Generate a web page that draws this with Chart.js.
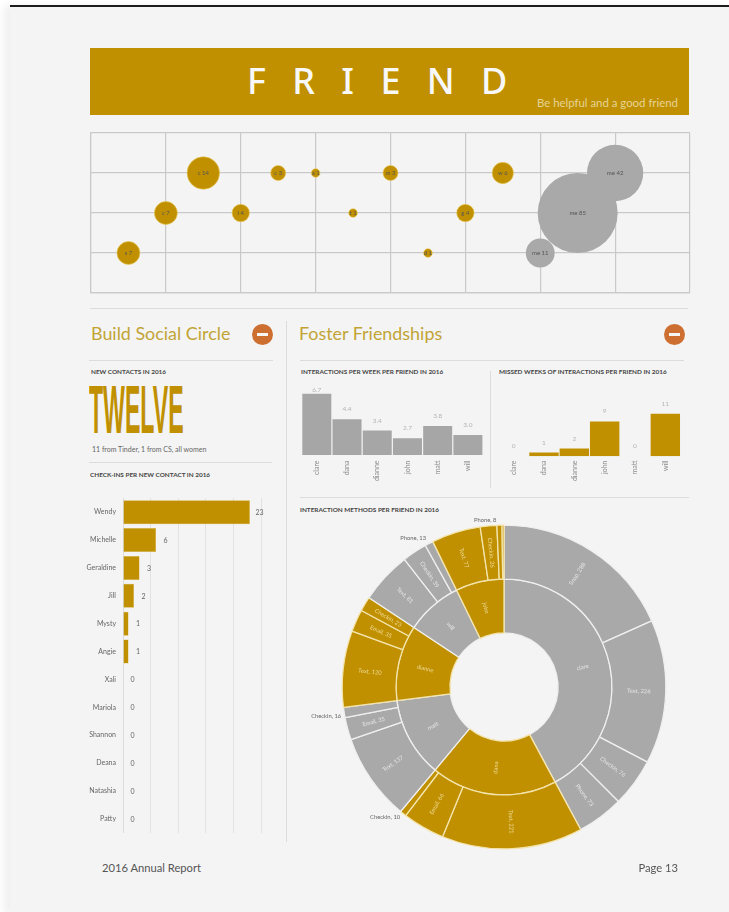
<!DOCTYPE html>
<html>
<head>
<meta charset="utf-8">
<title>Friend</title>
<script src="https://cdn.jsdelivr.net/npm/chart.js@4"></script>
<style>
  html, body { margin: 0; padding: 0; background: #fff; }
  body { width: 729px; height: 912px; position: relative; overflow: hidden; font-family: Lato, sans-serif; }
  #page { position: absolute; left: 10px; top: 5px; width: 719px; height: 907px; background: #f4f4f4; border-top: 2px solid #1c1c1c; box-shadow: -6px 0 8px #f0f0f0; }
  .abs { position: absolute; white-space: nowrap; }
  .rule { position: absolute; background: #dcdcdc; }
  .small-title { position: absolute; white-space: nowrap; font: bold 6.4px Lato, sans-serif; color: #444; line-height: 8px; }
  .heading { position: absolute; white-space: nowrap; font-size: 17.9px; line-height: 24px; color: #c2a436; }
  .minus { position: absolute; width: 21px; height: 21px; border-radius: 50%; background: #cc6f30; }
  .minus:after { content: ""; position: absolute; left: 5px; top: 9px; width: 11px; height: 3px; background: #f6f6f6; }
  canvas { position: absolute; }
</style>
</head>
<body>
<div id="page"></div>

<div class="abs" style="left:90px;top:48px;width:599px;height:67px;background:#c09000"></div>
<div class="abs" style="left:247px;top:56px;font:500 36px/50px 'Noto Sans',sans-serif;letter-spacing:26.3px;color:#f8f8f8">FRIEND</div>
<div class="abs" style="right:51px;top:96px;font-size:11.4px;line-height:14px;color:#e6d394">Be helpful and a good friend</div>

<canvas id="bubbleChart" style="left:89px;top:131px"></canvas>

<div class="rule" style="left:90px;top:308px;width:598px;height:1px"></div>
<div class="heading" style="left:91px;top:321px">Build Social Circle</div>
<div class="minus" style="left:252px;top:324px"></div>
<div class="heading" style="left:299px;top:321px">Foster Friendships</div>
<div class="minus" style="left:664px;top:324px"></div>
<div class="rule" style="left:89px;top:360px;width:184px;height:1px"></div>
<div class="rule" style="left:300px;top:360px;width:384px;height:1px"></div>
<div class="rule" style="left:286px;top:321px;width:1px;height:521px"></div>
<div class="rule" style="left:490px;top:371px;width:1px;height:117px"></div>
<div class="rule" style="left:300px;top:497px;width:389px;height:1px"></div>
<div class="rule" style="left:89px;top:462px;width:183px;height:1px"></div>

<div class="small-title" style="left:91px;top:368px">NEW CONTACTS IN 2016</div>
<div class="abs" id="twelve" style="left:89px;top:375px;font:bold 69px/70px 'Liberation Sans',sans-serif;color:#c09000;transform:scaleX(0.335);transform-origin:0 0">TWELVE</div>
<div class="abs" style="left:92px;top:445px;font-size:7px;line-height:9px;color:#666">11 from Tinder, 1 from CS, all women</div>
<div class="small-title" style="left:90px;top:471px">CHECK-INS PER NEW CONTACT IN 2016</div>
<div class="small-title" style="left:301px;top:368px">INTERACTIONS PER WEEK PER FRIEND IN 2016</div>
<div class="small-title" style="left:499px;top:368px">MISSED WEEKS OF INTERACTIONS PER FRIEND IN 2016</div>
<div class="small-title" style="left:300px;top:506px">INTERACTION METHODS PER FRIEND IN 2016</div>

<canvas id="checkinChart" style="left:70px;top:487px"></canvas>
<canvas id="interactionChart" style="left:298px;top:380px"></canvas>
<canvas id="missedChart" style="left:495px;top:380px"></canvas>
<canvas id="sunburstChart" style="left:304px;top:507px"></canvas>

<div class="abs" style="left:102px;top:860px;font-size:11.2px;line-height:16px;color:#555">2016 Annual Report</div>
<div class="abs" style="right:51px;top:860px;font-size:11.2px;line-height:16px;color:#555">Page 13</div>

<script>
const GOLD = '#c09000'
const GRAY = '#a9a9a9'

// bubbles along the top strip
const bubbleNames = ['s', 'c', 'c', 'l', 'c', 'a', 't', 'm', 'd', 'g', 'w', 'me', 'me', 'me']
const bubbleX = [0.5, 1, 1.5, 2, 2.5, 3, 3.5, 4, 4.5, 5, 5.5, 6, 6.5, 7]
const bubbleY = [1, 2, 3, 2, 3, 3, 2, 3, 1, 2, 3, 1, 2, 3]
const bubbleCounts = [7, 7, 14, 4, 3, 1, 1, 3, 1, 4, 6, 11, 85, 42]

// check-ins per new contact
const contactNames = ['Wendy', 'Michelle', 'Geraldine', 'Jill', 'Mysty', 'Angie', 'Xali', 'Mariola', 'Shannon', 'Deana', 'Natashia', 'Patty']
const contactCheckins = [23, 6, 3, 2, 1, 1, 0, 0, 0, 0, 0, 0]

// the two small bar charts
const friends = ['clare', 'dana', 'dianne', 'john', 'matt', 'will']
const interactionsPerWeek = [6.7, 4.4, 3.4, 2.7, 3.8, 3.0]
const missedWeeks = [0, 1, 2, 9, 0, 11]

// sunburst, outer ring is methods, inner ring is the friend total
const methodNames = ['Snap', 'Text', 'Checkin', 'Phone', 'Text', 'Email', 'Checkin', 'Text', 'Email', 'Checkin', 'Text', 'Email', 'Checkin', 'Text', 'Checkin', 'Phone', 'Text', 'Checkin', 'Phone', 'Email']
const methodValues = [288, 226, 76, 73, 221, 66, 10, 137, 35, 16, 120, 35, 23, 81, 39, 13, 77, 26, 8, 3]
const methodIsGold = [0, 0, 0, 0, 1, 1, 1, 0, 0, 0, 1, 1, 1, 0, 0, 0, 1, 1, 1, 1]
const ringNames = ['clare', 'dana', 'matt', 'dianne', 'will', 'john']
const ringValues = [663, 297, 188, 178, 133, 114]
const ringIsGold = [0, 1, 0, 1, 0, 1]

function sizeCanvas(id, w, h) {
  const el = document.getElementById(id)
  el.width = w
  el.height = h
  el.style.width = w + 'px'
  el.style.height = h + 'px'
  return el
}

Chart.defaults.animation = false
Chart.defaults.responsive = false
Chart.defaults.font.family = 'Lato, sans-serif'
Chart.defaults.plugins.legend.display = false
Chart.defaults.plugins.tooltip.enabled = false

// writes each bubble's label at its centre
const bubbleLabels = {
  id: 'bubbleLabels',
  afterDatasetsDraw(chart) {
    const ctx = chart.ctx
    ctx.save()
    ctx.font = '6px Lato, sans-serif'
    ctx.fillStyle = '#555'
    ctx.textAlign = 'center'
    ctx.textBaseline = 'middle'
    chart.getDatasetMeta(0).data.forEach((pt, i) => {
      ctx.fillText(bubbleNames[i] + ' ' + bubbleCounts[i], pt.x, pt.y)
    })
    ctx.restore()
  }
}

new Chart(sizeCanvas('bubbleChart', 603, 164), {
  type: 'bubble',
  data: {
    datasets: [{
      data: bubbleX.map((x, i) => ({ x: x, y: bubbleY[i], r: 4.34 * Math.sqrt(bubbleCounts[i]) })),
      backgroundColor: bubbleNames.map(n => n === 'me' ? GRAY : GOLD),
      borderColor: bubbleNames.map(n => n === 'me' ? GRAY : '#e9c95a'),
      borderWidth: bubbleNames.map(n => n === 'me' ? 0 : 0.6),
      clip: false
    }]
  },
  options: {
    layout: { padding: 2, autoPadding: false },
    scales: {
      x: { min: 0, max: 8, ticks: { display: false, stepSize: 1 }, grid: { color: '#c9c9c9', lineWidth: 1.2, drawTicks: false }, border: { color: '#c9c9c9', width: 1.2 } },
      y: { min: 0, max: 4, ticks: { display: false, stepSize: 1 }, grid: { color: '#c9c9c9', lineWidth: 1.2, drawTicks: false }, border: { color: '#c9c9c9', width: 1.2 } }
    }
  },
  plugins: [bubbleLabels]
})

const checkinValueLabels = {
  id: 'checkinValueLabels',
  afterDatasetsDraw(chart) {
    const ctx = chart.ctx
    ctx.save()
    ctx.font = '7px Lato, sans-serif'
    ctx.fillStyle = '#666'
    ctx.textAlign = 'center'
    ctx.textBaseline = 'middle'
    chart.getDatasetMeta(0).data.forEach((bar, i) => {
      ctx.fillText(contactCheckins[i], bar.x + 9.5, bar.y + 0.5)
    })
    ctx.restore()
  }
}

// the y axis keeps about 11px free at both ends of this canvas whatever the padding says
new Chart(sizeCanvas('checkinChart', 215, 357), {
  type: 'bar',
  data: {
    labels: contactNames,
    datasets: [{ data: contactCheckins, backgroundColor: GOLD, borderColor: '#d9b43c', borderWidth: 0.5, barPercentage: 0.86, categoryPercentage: 1 }]
  },
  options: {
    indexAxis: 'y',
    layout: { padding: { right: 24 }, autoPadding: false },
    scales: {
      x: { min: 0, max: 25, afterFit: s => { s.height = 0 }, ticks: { display: false, stepSize: 5 }, grid: { color: '#e2e2e2', drawTicks: false }, border: { display: false } },
      y: {
        afterFit: s => { s.width = 53 },
        ticks: { color: '#666', font: { size: 7 }, padding: 7 },
        grid: { display: false, drawTicks: false },
        border: { color: '#dcdcdc' }
      }
    }
  },
  plugins: [checkinValueLabels]
})

// labels over the columns, held inside the plot at the top
const columnValueLabels = {
  id: 'columnValueLabels',
  afterDatasetsDraw(chart) {
    const ctx = chart.ctx
    const values = chart.data.datasets[0].data
    const digits = chart.options.labelDigits
    ctx.save()
    ctx.font = '6.5px Lato, sans-serif'
    ctx.fillStyle = '#b4b4b4'
    ctx.textAlign = 'center'
    ctx.textBaseline = 'middle'
    chart.getDatasetMeta(0).data.forEach((bar, i) => {
      ctx.fillText(values[i].toFixed(digits), bar.x, Math.max(bar.y - 10, chart.chartArea.top))
    })
    ctx.restore()
  }
}

function columnOptions(yMin, yMax, digits, left, right, axisHeight) {
  return {
    labelDigits: digits,
    layout: { padding: { top: 10, left: left, right: right }, autoPadding: false },
    scales: {
      x: {
        afterFit: s => { s.height = axisHeight },
        ticks: { color: '#8c8c8c', font: { size: 7 }, minRotation: 90, maxRotation: 90, padding: axisHeight - 29.5, autoSkip: false },
        grid: { display: false, drawTicks: false },
        border: { display: false }
      },
      y: { display: false, min: yMin, max: yMax }
    }
  }
}

new Chart(sizeCanvas('interactionChart', 190, 110), {
  type: 'bar',
  data: { labels: friends, datasets: [{ data: interactionsPerWeek, backgroundColor: '#a6a6a6', barPercentage: 0.96, categoryPercentage: 1 }] },
  options: columnOptions(1.2, 7.03, 1, 3.7, 5, 35),
  plugins: [columnValueLabels]
})

new Chart(sizeCanvas('missedChart', 190, 110), {
  type: 'bar',
  data: { labels: friends, datasets: [{ data: missedWeeks, backgroundColor: GOLD, barPercentage: 0.97, categoryPercentage: 1 }] },
  options: columnOptions(0, 17.1, 0, 3.5, 4.5, 33.7),
  plugins: [columnValueLabels]
})

// radial text in the slices, the thin ones get a callout outside the ring
const sunburstLabels = {
  id: 'sunburstLabels',
  afterDatasetsDraw(chart) {
    const ctx = chart.ctx
    const drawRadial = (arc, text, isGold, size) => {
      const pos = arc.getCenterPoint()
      const mid = (arc.startAngle + arc.endAngle) / 2
      const flip = Math.cos(mid) < 0
      ctx.save()
      ctx.translate(pos.x, pos.y)
      ctx.rotate(flip ? mid + Math.PI : mid)
      ctx.font = size + 'px Lato, sans-serif'
      ctx.fillStyle = isGold ? '#f0dc98' : '#e6e6e6'
      ctx.textAlign = 'center'
      ctx.textBaseline = 'middle'
      ctx.fillText(text, 0, 0)
      ctx.restore()
    }
    chart.getDatasetMeta(0).data.forEach((arc, i) => {
      const value = methodValues[i]
      const text = methodNames[i] + ', ' + value
      if (value < 5) return
      if (value > 16) {
        drawRadial(arc, text, methodIsGold[i], 5.8)
        return
      }
      const mid = (arc.startAngle + arc.endAngle) / 2
      const x = arc.x + Math.cos(mid) * arc.outerRadius
      const y = arc.y + Math.sin(mid) * arc.outerRadius
      ctx.save()
      ctx.font = '5.8px Lato, sans-serif'
      ctx.fillStyle = '#666'
      ctx.textAlign = 'right'
      ctx.textBaseline = 'middle'
      ctx.fillText(text, x - 3, y + (Math.sin(mid) > 0 ? 4 : -5))
      ctx.restore()
    })
    chart.getDatasetMeta(1).data.forEach((arc, i) => {
      drawRadial(arc, ringNames[i], ringIsGold[i], 5.8)
    })
  }
}

new Chart(sizeCanvas('sunburstChart', 400, 360), {
  type: 'doughnut',
  data: {
    datasets: [
      {
        data: methodValues,
        backgroundColor: methodIsGold.map(g => g ? GOLD : GRAY),
        borderColor: methodIsGold.map(g => g ? '#f3e4ac' : '#efefef'),
        borderWidth: 1.3
      },
      {
        data: ringValues,
        backgroundColor: ringIsGold.map(g => g ? GOLD : GRAY),
        borderColor: ringIsGold.map(g => g ? '#f3e4ac' : '#efefef'),
        borderWidth: 1.3
      }
    ]
  },
  options: {
    cutout: '33.4%',
    layout: { padding: 17.5 }
  },
  plugins: [sunburstLabels]
})
</script>
</body>
</html>
